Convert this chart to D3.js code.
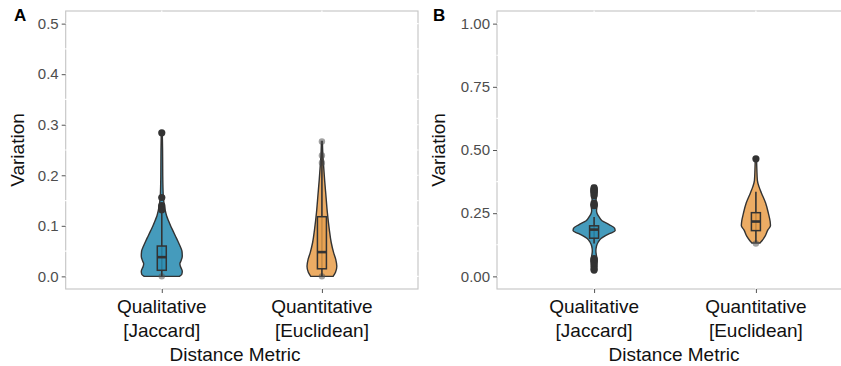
<!DOCTYPE html>
<html>
<head>
<meta charset="utf-8">
<script src="https://cdnjs.cloudflare.com/ajax/libs/d3/7.8.5/d3.min.js"></script>
<style>
  body { margin: 0; background: #fff; }
  text { font-family: "Liberation Sans", Arial, sans-serif; }
</style>
</head>
<body>
<script>
var categories = ["Qualitative\n[Jaccard]", "Quantitative\n[Euclidean]"];
var colors = ["#2b8db3", "#e9a14e"];

// violin outlines: [variation, half width in x units]
var violinA_qual = [[0.284,0.003],[0.25,0.005],[0.2,0.006],[0.16,0.009],[0.14,0.016],[0.13,0.022],[0.12,0.03],[0.11,0.042],[0.1,0.055],[0.09,0.07],[0.08,0.085],[0.07,0.1],[0.06,0.114],[0.05,0.126],[0.04,0.128],[0.03,0.119],[0.025,0.113],[0.02,0.116],[0.01,0.128],[0.004,0.125],[0,0.11]];
var violinA_quant = [[0.267,0.003],[0.24,0.006],[0.225,0.009],[0.19,0.017],[0.16,0.025],[0.126,0.034],[0.093,0.046],[0.067,0.058],[0.047,0.073],[0.034,0.086],[0.02,0.093],[0.008,0.085],[0,0.07]];
var violinB_qual = [[0.36,0.012],[0.34,0.018],[0.32,0.015],[0.3,0.012],[0.28,0.018],[0.26,0.015],[0.25,0.018],[0.235,0.031],[0.22,0.049],[0.205,0.093],[0.19,0.127],[0.18,0.13],[0.17,0.099],[0.16,0.068],[0.15,0.043],[0.135,0.025],[0.12,0.015],[0.1,0.011],[0.08,0.015],[0.06,0.018],[0.04,0.015],[0.025,0.012]];
var violinB_quant = [[0.465,0.004],[0.42,0.006],[0.38,0.009],[0.355,0.019],[0.33,0.034],[0.29,0.06],[0.25,0.077],[0.217,0.088],[0.2,0.09],[0.184,0.074],[0.158,0.056],[0.14,0.036],[0.132,0.025]];

// boxplot stats: [lower whisker, q1, median, q3, upper whisker]
var boxA = [[0.0, 0.012, 0.038, 0.06, 0.132], [0.0, 0.015, 0.048, 0.118, 0.262]];
var boxB = [[0.13, 0.151, 0.185, 0.2, 0.235], [0.134, 0.181, 0.217, 0.252, 0.335]];

var outliersA = [[0.284, 0.156, 0.14, 0.136, 0.132], []];
var outliersB = [[0.35, 0.345, 0.34, 0.335, 0.33, 0.32, 0.29, 0.285, 0.28, 0.07, 0.065, 0.06, 0.05, 0.04, 0.03, 0.025], [0.465]];
var jitterA = [[0.0], [0.267, 0.239, 0.225, 0.0]];
var jitterB = [[], [0.13]];

var ticksA = [0, 0.1, 0.2, 0.3, 0.4, 0.5];
var minorA = [0.05, 0.15, 0.25, 0.35, 0.45];
var ticksB = [0, 0.25, 0.5, 0.75, 1.0];
var minorB = [0.125, 0.375, 0.625, 0.875];

var svg = d3.select("body").append("svg").attr("width", 841).attr("height", 366);

function panel(opt) {
    var g = svg.append("g");
    var x = d3.scaleLinear().domain([0.4, 2.6]).range([opt.left, opt.right]);
    var y = d3.scaleLinear().domain(opt.domain).range([289, 11]);

    g.append("rect").attr("x", opt.left).attr("y", 11)
        .attr("width", opt.right - opt.left).attr("height", 278)
        .attr("fill", "#fff").attr("stroke", "#c4c4c4").attr("stroke-width", 1.1);

    // white grid drawn over the border
    var grid = g.append("g").attr("stroke", "#fff").attr("stroke-width", 1.2);
    opt.ticks.concat(opt.minor).forEach(function(t) {
        grid.append("line").attr("x1", opt.left - 0.6).attr("x2", opt.right + 0.6)
            .attr("y1", y(t)).attr("y2", y(t));
    });
    [1, 2].forEach(function(c) {
        grid.append("line").attr("x1", x(c)).attr("x2", x(c)).attr("y1", 10.4).attr("y2", 289.6);
    });

    var yAxis = g.append("g").attr("transform", "translate(" + opt.left + ",0)")
        .call(d3.axisLeft(y).tickValues(opt.ticks).tickSize(4).tickPadding(3).tickFormat(d3.format(opt.fmt)));
    yAxis.select(".domain").remove();
    yAxis.selectAll("line").attr("stroke", "#555");
    yAxis.selectAll("text").attr("fill", "#4d4d4d").style("font-size", "15px")
        .style("font-family", "Liberation Sans, Arial, sans-serif");

    var xAxis = g.append("g").attr("transform", "translate(0,289)")
        .call(d3.axisBottom(x).tickValues([1, 2]).tickSize(4).tickFormat(""));
    xAxis.select(".domain").remove();
    xAxis.selectAll("line").attr("stroke", "#555");

    categories.forEach(function(c, i) {
        c.split("\n").forEach(function(line, j) {
            g.append("text").attr("x", x(i + 1)).attr("y", 313 + j * 24)
                .attr("text-anchor", "middle").attr("fill", "#111").style("font-size", "19px").text(line);
        });
    });

    g.append("text").attr("x", opt.titleCx).attr("y", 361)
        .attr("text-anchor", "middle").attr("fill", "#111").style("font-size", "19px").text("Distance Metric");
    g.append("text").attr("transform", "translate(" + opt.titleX + ",150) rotate(-90)")
        .attr("text-anchor", "middle").attr("fill", "#111").style("font-size", "19px").text("Variation");
    g.append("text").attr("x", opt.labelX).attr("y", 21).style("font-size", "17px")
        .style("font-weight", "bold").attr("fill", "#000").text(opt.label);

    opt.violins.forEach(function(v, i) {
        var cx = i + 1;
        var area = d3.area().curve(d3.curveMonotoneY)
            .y(function(d) { return y(d[0]); })
            .x0(function(d) { return x(cx - d[1]); })
            .x1(function(d) { return x(cx + d[1]); });
        g.append("path").attr("d", area(v)).attr("fill", colors[i]).attr("fill-opacity", 0.88)
            .attr("stroke", "#333").attr("stroke-width", 1.4);

        opt.jitter[i].forEach(function(p) {
            g.append("circle").attr("cx", x(cx)).attr("cy", y(p)).attr("r", 3.2)
                .attr("fill", "#555").attr("fill-opacity", 0.55);
        });

        var b = opt.box[i];
        var hw = 4.5;
        g.append("line").attr("x1", x(cx)).attr("x2", x(cx)).attr("y1", y(b[0])).attr("y2", y(b[4]))
            .attr("stroke", "#333").attr("stroke-width", 1.6);
        g.append("rect").attr("x", x(cx) - hw).attr("width", hw * 2)
            .attr("y", y(b[3])).attr("height", y(b[1]) - y(b[3]))
            .attr("fill", colors[i]).attr("fill-opacity", 0.8)
            .attr("stroke", "#333").attr("stroke-width", 1.5);
        g.append("line").attr("x1", x(cx) - hw).attr("x2", x(cx) + hw)
            .attr("y1", y(b[2])).attr("y2", y(b[2])).attr("stroke", "#333").attr("stroke-width", 2.6);

        opt.outliers[i].forEach(function(p) {
            g.append("circle").attr("cx", x(cx)).attr("cy", y(p)).attr("r", 3.6).attr("fill", "#333");
        });
    });
}

panel({ left: 65.7, right: 418, domain: [-0.025, 0.525], ticks: ticksA, minor: minorA, fmt: ".1f",
        violins: [violinA_qual, violinA_quant], box: boxA, outliers: outliersA, jitter: jitterA,
        titleX: 24, titleCx: 235, label: "A", labelX: 14 });
panel({ left: 497, right: 853, domain: [-0.05, 1.05], ticks: ticksB, minor: minorB, fmt: ".2f",
        violins: [violinB_qual, violinB_quant], box: boxB, outliers: outliersB, jitter: jitterB,
        titleX: 445, titleCx: 674, label: "B", labelX: 433 });
</script>
</body>
</html>
